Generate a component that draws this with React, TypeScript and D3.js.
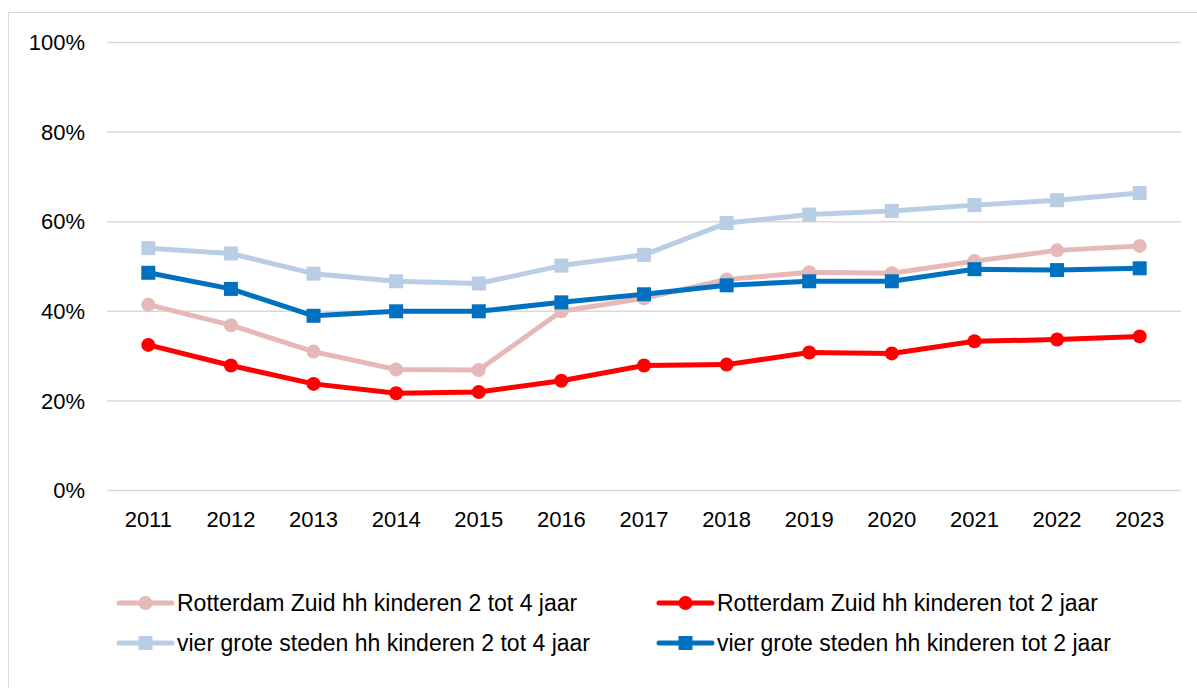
import React from "react";
import * as d3 from "d3";

const years = ["2011","2012","2013","2014","2015","2016","2017","2018","2019","2020","2021","2022","2023"];
const rzHh2tot4 = [41.5, 36.9, 31.0, 27.0, 26.9, 40.0, 42.9, 47.1, 48.7, 48.5, 51.2, 53.6, 54.6];
const rzHhTot2 = [32.5, 27.9, 23.8, 21.7, 22.0, 24.5, 27.9, 28.1, 30.8, 30.6, 33.3, 33.7, 34.4];
const g4Hh2tot4 = [54.1, 52.9, 48.4, 46.7, 46.2, 50.2, 52.6, 59.7, 61.6, 62.4, 63.7, 64.8, 66.4];
const g4HhTot2 = [48.6, 45.0, 39.0, 40.0, 40.0, 42.0, 43.8, 45.8, 46.7, 46.7, 49.4, 49.2, 49.6];
const yTicks = [0, 20, 40, 60, 80, 100];

const series = [
  { name: "Rotterdam Zuid hh kinderen 2 tot 4 jaar", values: rzHh2tot4, color: "#e6b9b8", shape: "circle" },
  { name: "Rotterdam Zuid hh kinderen tot 2 jaar", values: rzHhTot2, color: "#ff0000", shape: "circle" },
  { name: "vier grote steden hh kinderen 2 tot 4 jaar", values: g4Hh2tot4, color: "#b9cde5", shape: "square" },
  { name: "vier grote steden hh kinderen tot 2 jaar", values: g4HhTot2, color: "#0070c0", shape: "square" },
];

const W = 1197, H = 688;
const left = 107, right = 1181, top = 42.5, bottom = 490.5;
const font = "'Liberation Sans', Arial, sans-serif";

function Marker({ shape, x, y, color }: { shape: string; x: number; y: number; color: string }) {
  if (shape === "circle") return <circle cx={x} cy={y} r={7} fill={color} />;
  return <rect x={x - 7} y={y - 7} width={14} height={14} fill={color} />;
}

export default function App() {
  const x = d3.scaleBand<string>().domain(years).range([left, right]);
  const y = d3.scaleLinear().domain([0, 100]).range([bottom, top]);
  const cx = (d: string) => (x(d) as number) + x.bandwidth() / 2;
  const line = d3.line<number>().x((_, i) => cx(years[i])).y((v) => y(v));

  const legendPos = [
    { lx: 119, ly: 603 },
    { lx: 659, ly: 603 },
    { lx: 119, ly: 643 },
    { lx: 659, ly: 643 },
  ];

  return (
    <svg width={W} height={H} style={{ position: "absolute", left: 0, top: 0, background: "#fff" }} fontFamily={font}>
      <rect x={8.5} y={12.5} width={W + 10} height={H + 10} fill="#fff" stroke="#d9d9d9" strokeWidth={1} />
      {yTicks.map((t) => (
        <g key={t}>
          <line x1={left} x2={right} y1={y(t)} y2={y(t)} stroke="#d9d9d9" strokeWidth={1.5} />
          <text x={85} y={y(t)} dy="0.35em" textAnchor="end" fontSize={22} fill="#000">{t}%</text>
        </g>
      ))}
      {years.map((yr) => (
        <text key={yr} x={cx(yr)} y={526.5} textAnchor="middle" fontSize={22} fill="#000">{yr}</text>
      ))}
      {series.map((s) => (
        <g key={s.name}>
          <path d={line(s.values) || ""} fill="none" stroke={s.color} strokeWidth={5} strokeLinejoin="round" />
          {s.values.map((v, i) => (
            <Marker key={i} shape={s.shape} x={cx(years[i])} y={y(v)} color={s.color} />
          ))}
        </g>
      ))}
      {series.map((s, i) => {
        const p = legendPos[i];
        return (
          <g key={s.name}>
            <line x1={p.lx} x2={p.lx + 53} y1={p.ly} y2={p.ly} stroke={s.color} strokeWidth={5} strokeLinecap="round" />
            <Marker shape={s.shape} x={p.lx + 26.5} y={p.ly} color={s.color} />
            <text x={p.lx + 58} y={p.ly} dy="0.35em" fontSize={23} fill="#000">{s.name}</text>
          </g>
        );
      })}
    </svg>
  );
}
